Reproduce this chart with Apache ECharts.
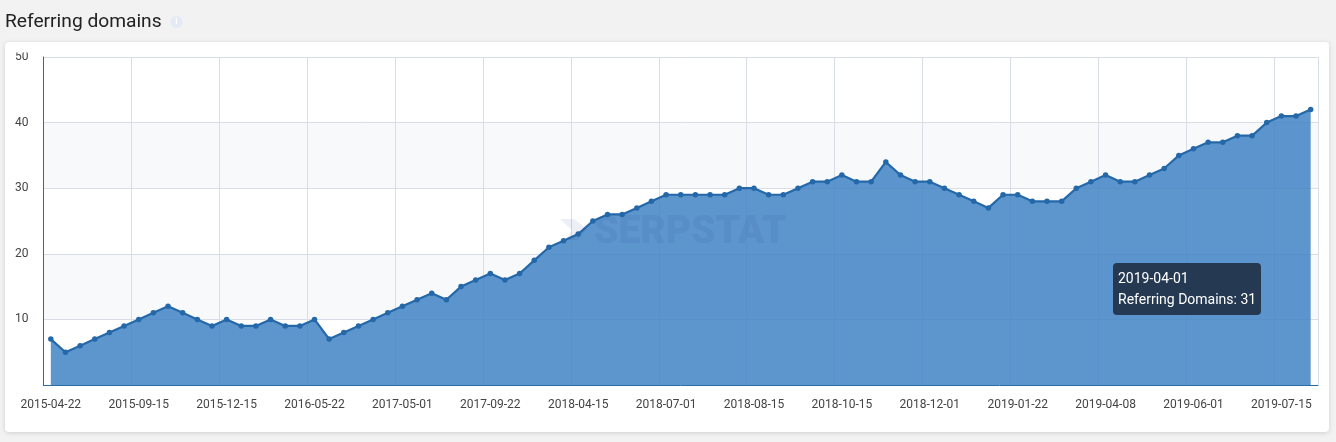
<!DOCTYPE html>
<html>
<head>
<meta charset="utf-8">
<title>Referring domains</title>
<script src="https://cdn.jsdelivr.net/npm/echarts@6/dist/echarts.min.js"></script>
<style>
html, body { margin: 0; padding: 0; width: 1336px; height: 442px; overflow: hidden; background: #f2f2f2; }
#card { position: absolute; left: 5px; top: 42px; width: 1324px; height: 390px; background: #fff; border-radius: 4px; box-shadow: 0 1px 5px rgba(0, 0, 0, .14); }
#chart { position: absolute; left: 0; top: 0; width: 1336px; height: 442px; }
</style>
</head>
<body>
<div id="card"></div>
<div id="chart"></div>
<script>
// labels shown on the x axis, one every 6 points
const tickLabels = ['2015-04-22', '2015-09-15', '2015-12-15', '2016-05-22', '2017-05-01', '2017-09-22', '2018-04-15', '2018-07-01',
  '2018-08-15', '2018-10-15', '2018-12-01', '2019-01-22', '2019-04-08', '2019-06-01', '2019-07-15'];
const domains = [7, 5, 6, 7, 8, 9, 10, 11, 12, 11, 10, 9, 10, 9, 9, 10, 9, 9, 10, 7, 8, 9, 10, 11, 12, 13, 14, 13, 15, 16,
  17, 16, 17, 19, 21, 22, 23, 25, 26, 26, 27, 28, 29, 29, 29, 29, 29, 30, 30, 29, 29, 30, 31, 31, 32, 31, 31, 34,
  32, 31, 31, 30, 29, 28, 27, 29, 29, 28, 28, 28, 30, 31, 32, 31, 31, 32, 33, 35, 36, 37, 37, 38, 38, 40, 41, 41, 42];
const yTicks = [10, 20, 30, 40, 50];
const hoverIndex = 71;
const hoverDate = '2019-04-01';

const categories = domains.map((v, i) => (i % 6 === 0 ? tickLabels[i / 6] : ''));
categories[hoverIndex] = hoverDate;

const chart = echarts.init(document.getElementById('chart'), null, { renderer: 'canvas' });
chart.setOption({
  animation: false,
  textStyle: { fontFamily: 'Roboto' },
  title: {
    text: 'Referring domains', left: 5, top: 12, padding: 0,
    textStyle: { fontFamily: 'Roboto', fontSize: 19.2, fontWeight: 'normal', color: '#222', lineHeight: 21 }
  },
  grid: { left: 43.5, top: 57, width: 1274.5, height: 328 },
  tooltip: {
    trigger: 'item',
    alwaysShowContent: true,
    showDelay: 0,
    transitionDuration: 0,
    position: [1113, 263],
    backgroundColor: '#253a52',
    borderWidth: 0,
    padding: [5, 5],
    extraCssText: 'border-radius:4px;box-shadow:none;width:138px;height:42px;line-height:21px;white-space:nowrap;',
    textStyle: { fontFamily: 'Roboto', fontSize: 14, color: '#fff' },
    formatter: (p) => p.name + '<br>Referring Domains: ' + p.value
  },
  xAxis: {
    type: 'category',
    data: categories,
    boundaryGap: true,
    axisLine: { lineStyle: { color: '#2a6ca6', width: 1 } },
    axisTick: { show: false },
    axisLabel: { interval: 5, color: '#444', fontSize: 12, margin: 14, hideOverlap: false },
    splitLine: { show: true, interval: 5, lineStyle: { color: '#d9dde6', width: 1 } }
  },
  yAxis: {
    type: 'value',
    min: 0, max: 50, interval: 10,
    axisLine: { show: true, lineStyle: { color: '#2a6ca6', width: 1 } },
    axisTick: { show: false },
    axisLabel: {
      color: '#444', fontSize: 12, margin: 15,
      formatter: (v) => (yTicks.includes(v) ? String(v) : '')
    },
    splitLine: { show: true, lineStyle: { color: '#d9dde6', width: 1 } },
    splitArea: { show: true, areaStyle: { color: ['#ffffff', '#f8f9fb'] } }
  },
  series: [{
    name: 'Referring Domains',
    type: 'line',
    data: domains,
    symbol: 'circle',
    symbolSize: 5.5,
    showSymbol: true,
    showAllSymbols: true,
    itemStyle: { color: '#2468a9' },
    lineStyle: { color: '#2468a9', width: 2.2 },
    areaStyle: { color: '#4585c5', opacity: 0.87 },
    z: 3
  }],
  graphic: [
    // the top of the "50" label is cut off in the source
    { type: 'rect', z: 100, shape: { x: 10, y: 43, width: 30, height: 9.5 }, style: { fill: '#fff' } },
    // info icon next to the title
    { type: 'circle', z: 100, shape: { cx: 176.5, cy: 22, r: 6 }, style: { fill: '#e3e9f5' } },
    { type: 'text', z: 101, style: { x: 176.5, y: 22, text: 'i', fill: '#fff', fontSize: 9, fontWeight: 'bold', fontFamily: 'Roboto', align: 'center', verticalAlign: 'middle' } },
    // watermark
    { type: 'polygon', z: 50, shape: { points: [[560, 219], [574, 219], [587, 229], [578, 240], [566, 240], [572, 230]] }, style: { fill: 'rgba(40,80,140,0.09)' } },
    { type: 'text', z: 50, style: { x: 594, y: 233, text: 'SERPSTAT', fill: 'rgba(40,80,140,0.09)', fontSize: 39, fontWeight: 900, fontFamily: 'Roboto', verticalAlign: 'middle' } }
  ]
});

// pinned hover box, as in the screenshot
chart.dispatchAction({ type: 'showTip', seriesIndex: 0, dataIndex: hoverIndex });
</script>
</body>
</html>
